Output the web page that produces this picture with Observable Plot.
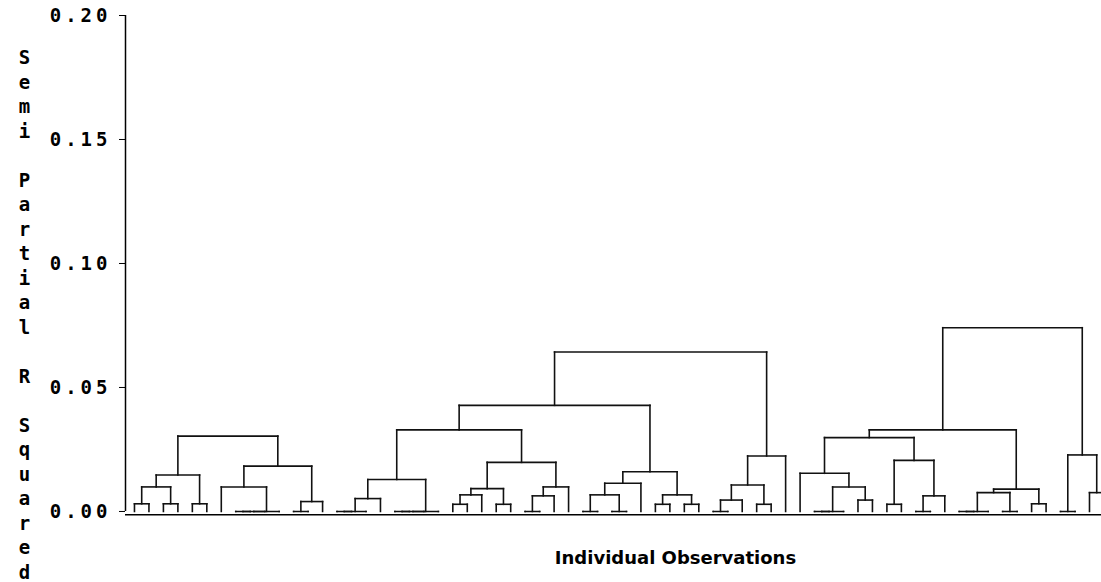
<!DOCTYPE html>
<html>
<head>
<meta charset="utf-8">
<script src="https://cdn.jsdelivr.net/npm/d3@7"></script>
<script src="https://cdn.jsdelivr.net/npm/@observablehq/plot@0.6"></script>
<style>
  html, body { margin: 0; padding: 0; background: #fff; }
  #chart svg { display: block; background: #fff; }
  [aria-label="y-axis tick label"] { letter-spacing: 4px; }
  [aria-label="y label"] { letter-spacing: 0px; }
  [aria-label="x label"] { letter-spacing: 3px; }
</style>
</head>
<body>
<div id="chart"></div>
<script>
// Observations in display order (1-based ids; the last one falls past the right edge)
const leafCount = 68;
// Merge table: negative = observation id, positive = earlier merge number (1-based)
const mergeLeft  = [ -1, -3, -5,  1,  4, -8,  6,  7, -7, -12, 10,  9,  5,
                    -15, 14, 15, -19, 17, 18, 16, -23, 21, -26, 22, -28, 25, 26, 24, 20,
                    -32, -34, 30, 32, -37, -39, 34, 33, 29, -41, 39, -44, 40, 42, 38,
                    -48, 45, -51, 46, -47, -53, -55, 51, 50, 49, -58, 55, -61, 56, -63, 58, 54,
                    -65, -67, 62, 61];
const mergeRight = [ -2, -4, -6,  2,  3, -9, -10, -11,  8, -13, -14, 11, 12,
                    -16, -17, -18, -20, -21, -22, 19, -24, -25, -27, 23, -29, -30, -31, 27, 28,
                    -33, -35, 31, -36, -38, -40, 35, 36, 37, -42, -43, -45, 41, -46, 43,
                    -49, -50, -52, 47, 48, -54, -56, -57, 52, 53, -59, -60, -62, 57, -64, 59, 60,
                    -66, -68, 63, 64];
const mergeHeight = [0.0031, 0.0031, 0.0031, 0.0099, 0.0147, 0, 0, 0, 0.0099, 0, 0.0040, 0.0183, 0.0304,
                     0, 0, 0.0052, 0, 0, 0, 0.0129, 0.0029, 0.0067, 0.0029, 0.0092, 0, 0.0063, 0.0099, 0.0198, 0.0329,
                     0, 0, 0.0067, 0.0114, 0.0029, 0.0029, 0.0067, 0.0160, 0.0428, 0, 0.0046, 0.0029, 0.0107, 0.0224, 0.0643,
                     0, 0, 0.0046, 0.0099, 0.0154, 0.0029, 0, 0.0063, 0.0206, 0.0298, 0, 0, 0, 0.0076, 0.0031, 0.0090, 0.0329,
                     0, 0.0076, 0.0228, 0.0741];
const yTicks = [0, 0.05, 0.10, 0.15, 0.20];
const yLabel = "Semi Partial R Squared";
const xLabel = "Individual Observations";

// Build dendrogram segments (node position = midpoint of its two children)
const nodes = [];
const ref = (r) => r < 0 ? {x: -r - 1, h: 0} : nodes[r - 1];
const segs = [];
mergeHeight.forEach((h, i) => {
  const a = ref(mergeLeft[i]), b = ref(mergeRight[i]);
  segs.push({x1: a.x, y1: a.h, x2: a.x, y2: h});
  segs.push({x1: b.x, y1: b.h, x2: b.x, y2: h});
  segs.push({x1: a.x, y1: h, x2: b.x, y2: h});
  nodes.push({x: (a.x + b.x) / 2, h});
});

const monoFont = "'DejaVu Sans Mono', 'Liberation Mono', monospace";
const yLabelText = yLabel.split("").map(c => c === " " ? "\u00a0" : c).join("\n");
const baseLevel = -0.0013;

const chart = Plot.plot({
  width: 1101,
  height: 582,
  marginLeft: 125,
  marginRight: 0,
  marginTop: 15,
  marginBottom: 67.8,
  style: {background: "#fff", color: "#000"},
  x: {domain: [-0.62, 66.83], axis: null},
  y: {domain: [baseLevel, 0.2]},
  marks: [
    Plot.axisY({
      ticks: yTicks, tickFormat: d3.format(".2f"), tickSize: 6, tickPadding: 8,
      label: null, fontSize: 19, fontWeight: "bold", fontFamily: monoFont, stroke: "#000"
    }),
    Plot.ruleX([-0.62], {y1: 0, y2: 0.2, stroke: "#000", strokeWidth: 1.5}),
    Plot.ruleY([baseLevel], {stroke: "#000", strokeWidth: 1.5}),
    Plot.link(segs, {
      x1: "x1", y1: "y1", x2: "x2", y2: "y2",
      stroke: "#111", strokeWidth: 1.6, clip: true, strokeLinecap: "square"
    }),
    Plot.text([yLabelText], {
      frameAnchor: "top-left", dx: -101, dy: 31.5, lineAnchor: "top",
      lineHeight: 24.5 / 19, textAnchor: "middle",
      fontSize: 19, fontWeight: "bold", fontFamily: monoFont, fill: "#000",
      ariaLabel: "y label"
    }),
    Plot.text([xLabel], {
      frameAnchor: "bottom", dx: 62, dy: 49, lineAnchor: "bottom",
      fontSize: 18, fontWeight: "bold", fontFamily: "'DejaVu Sans', sans-serif", fill: "#000",
      ariaLabel: "x label"
    })
  ]
});
document.getElementById("chart").appendChild(chart);
</script>
</body>
</html>
